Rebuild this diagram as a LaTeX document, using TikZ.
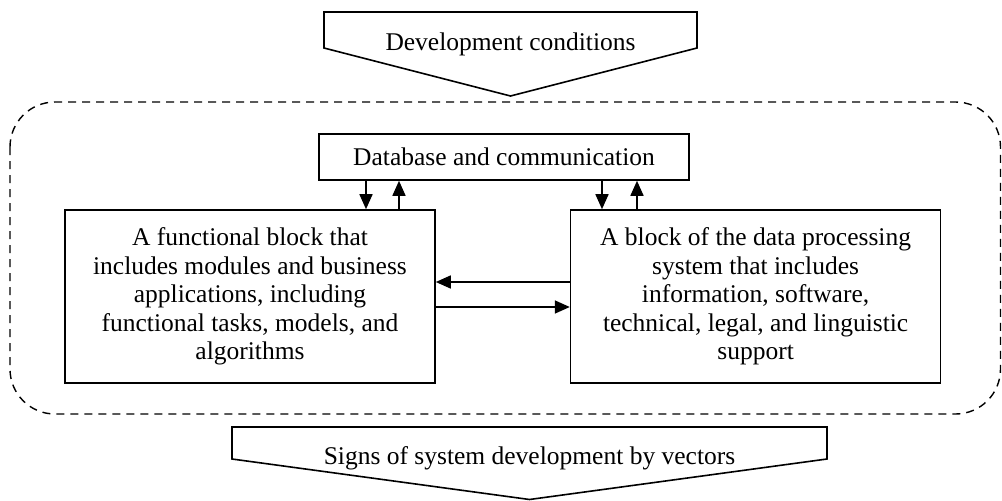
\documentclass[tikz,border=0pt]{standalone}
\usepackage{fontspec}
\setmainfont{Liberation Serif}
\usetikzlibrary{arrows.meta,positioning}

\tikzset{
  txt/.style={font=\fontsize{25.5}{28.5}\selectfont,inner sep=0pt},
  block/.style={txt,draw,line width=1.6pt,align=center,minimum width=370pt},
  shell/.style={draw,line width=1.4pt,dash pattern=on 8pt off 6pt,rounded corners=45pt},
  flow/.style={draw,line width=1.6pt,line join=miter},
}

\begin{document}
\begin{tikzpicture}[x=1pt,y=-1pt,>={Triangle[length=15pt,width=13pt]},line width=1.6pt]
    \useasboundingbox (0,0) rectangle (1002,501);

    % incoming and outgoing arrows
    \draw[flow] (324,12) -- (697,12) -- (697,48) -- (510.5,96) -- (324,48) -- cycle;
    \node[txt,anchor=base] (cond) at (510.5,50) {Development conditions};
    \draw[shell] (10,102) rectangle (1000.5,414);
    \draw[flow] (232,427) -- (827,427) -- (827,459) -- (529.5,499.5) -- (232,459) -- cycle;
    \node[txt,anchor=base] (signs) at (529.5,464) {Signs of system development by vectors};

    % blocks
    \node[block,minimum height=173pt] (fb) at (250,296.5)
        {A functional block that\\includes modules and business\\applications, including\\functional tasks, models, and\\algorithms};
    \node[block,minimum height=173pt,right=134pt of fb] (dp)
        {A block of the data processing\\system that includes\\information, software,\\technical, legal, and linguistic\\support};
    \node[block,minimum height=46pt] (db) at (504,157) {Database and communication};

    \draw[->] ([xshift=-138pt]db.south) -- ([xshift=-138pt]db.south |- fb.north);
    \draw[->] ([xshift=-105pt]db.south |- fb.north) -- ([xshift=-105pt]db.south);
    \draw[->] ([xshift=98pt]db.south) -- ([xshift=98pt]db.south |- dp.north);
    \draw[->] ([xshift=133pt]db.south |- dp.north) -- ([xshift=133pt]db.south);
    \draw[->] ([yshift=14.5pt]dp.west) -- ([yshift=14.5pt]dp.west -| fb.east);
    \draw[->] ([yshift=-10.5pt]fb.east) -- ([yshift=-10.5pt]fb.east -| dp.west);
\end{tikzpicture}
\end{document}
